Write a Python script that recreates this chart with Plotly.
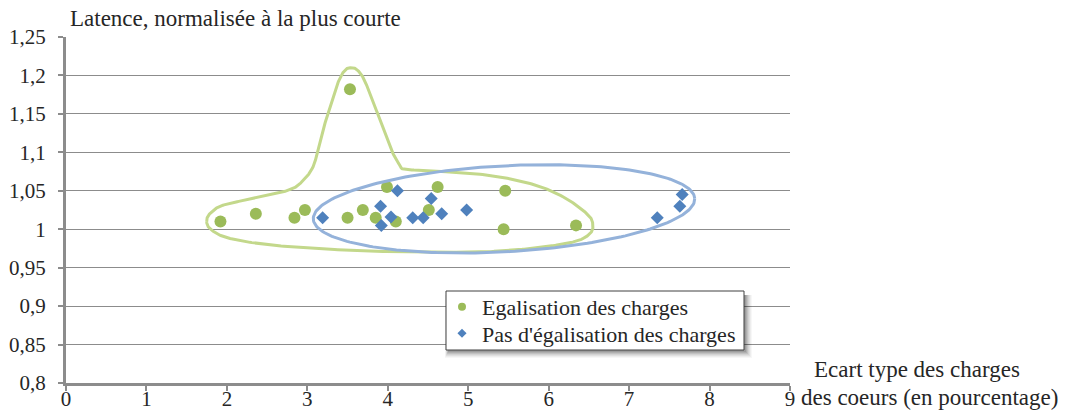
import numpy as np
import plotly.graph_objects as go

# --- data -------------------------------------------------------------
# Load balancing enabled ("Egalisation des charges")
eq_x = [1.92, 2.36, 2.84, 2.97, 3.50, 3.53, 3.69, 3.85, 3.99, 4.10, 4.51, 4.62, 5.44, 5.46, 6.34]
eq_y = [1.010, 1.020, 1.015, 1.025, 1.015, 1.182, 1.025, 1.015, 1.055, 1.010, 1.025, 1.055, 1.000, 1.050, 1.005]

# No load balancing ("Pas d'égalisation des charges")
noeq_x = [3.19, 3.91, 3.92, 4.04, 4.12, 4.31, 4.44, 4.54, 4.67, 4.98, 7.35, 7.63, 7.66]
noeq_y = [1.015, 1.030, 1.005, 1.016, 1.050, 1.015, 1.015, 1.040, 1.020, 1.025, 1.015, 1.030, 1.045]

y_ticks = [0.8, 0.85, 0.9, 0.95, 1.0, 1.05, 1.1, 1.15, 1.2, 1.25]
y_tick_labels = ["0,8", "0,85", "0,9", "0,95", "1", "1,05", "1,1", "1,15", "1,2", "1,25"]
x_ticks = [0, 1, 2, 3, 4, 5, 6, 7, 8, 9]

# hand-drawn outline around the balanced group (data units)
blob_x = [1.749, 1.790, 1.952, 2.371, 2.747, 2.909, 3.071, 3.158, 3.282, 3.390, 3.470, 3.539,
          3.610, 3.690, 3.779, 3.904, 4.028, 4.152, 4.277, 5.147, 5.768, 6.182, 6.473, 6.548,
          6.514, 6.307, 5.768, 5.147, 4.314, 3.490, 2.577, 2.039, 1.811]
blob_y = [1.0095, 1.0204, 1.0312, 1.0410, 1.0501, 1.0594, 1.0810, 1.1158, 1.1591, 1.1930, 1.2070, 1.2100,
          1.2080, 1.1980, 1.1765, 1.1418, 1.1070, 1.0832, 1.0774, 1.0715, 1.0594, 1.0420, 1.0204, 1.0074,
          0.9944, 0.9835, 0.9749, 0.9705, 0.9705, 0.9727, 0.9792, 0.9879, 0.9987]

# --- layout geometry ----------------------------------------------------
W, H = 1074, 411
M_L, M_R, M_T, M_B = 66, 284, 37, 28
X_RANGE = [0, 9]
Y_RANGE = [0.8, 1.25]
plot_w = W - M_L - M_R
plot_h = H - M_T - M_B
px_per_x = plot_w / (X_RANGE[1] - X_RANGE[0])
px_per_y = plot_h / (Y_RANGE[1] - Y_RANGE[0])

FONT = '"Liberation Serif", "Times New Roman", serif'
TXT = "#262626"
GREEN = "#9BBB59"
BLUE = "#4F81BD"
GREEN_LINE = "#C3D88B"
BLUE_LINE = "#94B2DA"
GRID = "#8C8C8C"


def closed_catmull_rom(xs, ys, n=24):
    """Smooth closed curve through the given points, computed in screen space."""
    px = np.asarray(xs) * px_per_x
    py = np.asarray(ys) * px_per_y
    pts = np.stack([px, py], axis=1)
    m = len(pts)
    out = []
    for i in range(m):
        p0, p1, p2, p3 = pts[(i - 1) % m], pts[i], pts[(i + 1) % m], pts[(i + 2) % m]
        t = np.linspace(0, 1, n, endpoint=False)[:, None]
        seg = 0.5 * ((2 * p1) + (-p0 + p2) * t + (2 * p0 - 5 * p1 + 4 * p2 - p3) * t ** 2
                     + (-p0 + 3 * p1 - 3 * p2 + p3) * t ** 3)
        out.append(seg)
    out.append(pts[:1])
    out = np.vstack(out)
    return out[:, 0] / px_per_x, out[:, 1] / px_per_y


def tilted_ellipse(cx, cy, a_px, b_px, angle_deg, n=240):
    """Ellipse with semi-axes given in pixels, tilted on screen, returned in data units."""
    t = np.linspace(0, 2 * np.pi, n)
    th = np.radians(angle_deg)
    dx = a_px * np.cos(t) * np.cos(th) - b_px * np.sin(t) * np.sin(th)
    dy = a_px * np.cos(t) * np.sin(th) + b_px * np.sin(t) * np.cos(th)
    return cx + dx / px_per_x, cy + dy / px_per_y


def px_to_paper(x_px, y_px):
    return (x_px - M_L) / plot_w, (H - M_B - y_px) / plot_h


fig = go.Figure()

# data series
fig.add_trace(go.Scatter(x=eq_x, y=eq_y, mode="markers", showlegend=False,
                         marker=dict(symbol="circle", size=12, color=GREEN)))
fig.add_trace(go.Scatter(x=noeq_x, y=noeq_y, mode="markers", showlegend=False,
                         marker=dict(symbol="diamond", size=10, color=BLUE)))

# group outlines
bx, by = closed_catmull_rom(blob_x, blob_y)
fig.add_trace(go.Scatter(x=bx, y=by, mode="lines", showlegend=False, hoverinfo="skip",
                         line=dict(color=GREEN_LINE, width=3)))
ex, ey = tilted_ellipse(5.445, 1.0265, 191, 43, 3.1)
fig.add_trace(go.Scatter(x=ex, y=ey, mode="lines", showlegend=False, hoverinfo="skip",
                         line=dict(color=BLUE_LINE, width=3)))

# legend entries (one per legend so the row spacing can be set)
fig.add_trace(go.Scatter(x=[None], y=[None], mode="markers", name="Egalisation des charges",
                         legend="legend",
                         marker=dict(symbol="circle", size=8, color=GREEN)))
fig.add_trace(go.Scatter(x=[None], y=[None], mode="markers", name="Pas d'égalisation des charges",
                         legend="legend2",
                         marker=dict(symbol="diamond", size=7, color=BLUE)))

# legend frame with a soft drop shadow
shapes = []
box = (446, 291, 744, 350)
for k, op in enumerate([0.10, 0.09, 0.08, 0.06, 0.05, 0.04, 0.03]):
    x0, y0 = px_to_paper(box[0] + 2 - k * 0.5, box[3] + 2 + k)
    x1, y1 = px_to_paper(box[2] + 2 + k, box[1] + 4)
    shapes.append(dict(type="rect", xref="paper", yref="paper", x0=x0, y0=y0, x1=x1, y1=y1,
                       line=dict(width=0), fillcolor=f"rgba(0,0,0,{op})", layer="above"))
fx0, fy0 = px_to_paper(box[0], box[3])
fx1, fy1 = px_to_paper(box[2], box[1])
shapes.append(dict(type="rect", xref="paper", yref="paper", x0=fx0, y0=fy0, x1=fx1, y1=fy1,
                   line=dict(color="#404040", width=1), fillcolor="white", layer="above"))

row_h = 26.5
leg_left = 442
leg_top = 286
legend_common = dict(xanchor="left", yanchor="top", bgcolor="rgba(0,0,0,0)", borderwidth=0,
                     font=dict(family=FONT, size=22, color=TXT), itemwidth=30)
l1x, l1y = px_to_paper(leg_left, leg_top)
l2x, l2y = px_to_paper(leg_left, leg_top + row_h)

annotations = [
    dict(text="Latence, normalisée à la plus courte", xref="paper", yref="paper",
         x=px_to_paper(68, 0)[0], y=px_to_paper(0, 19)[1], xanchor="left", yanchor="middle",
         showarrow=False, font=dict(family=FONT, size=23, color=TXT)),
    dict(text="Ecart type des charges", xref="paper", yref="paper",
         x=px_to_paper(812, 0)[0], y=px_to_paper(0, 369)[1], xanchor="left", yanchor="middle",
         showarrow=False, font=dict(family=FONT, size=23, color=TXT)),
    dict(text="des coeurs (en pourcentage)", xref="paper", yref="paper",
         x=px_to_paper(799, 0)[0], y=px_to_paper(0, 397)[1], xanchor="left", yanchor="middle",
         showarrow=False, font=dict(family=FONT, size=23, color=TXT)),
]

fig.update_layout(
    width=W, height=H,
    margin=dict(l=M_L, r=M_R, t=M_T, b=M_B, pad=0, autoexpand=False),
    paper_bgcolor="white", plot_bgcolor="white",
    font=dict(family=FONT, size=21, color=TXT),
    showlegend=True,
    legend=dict(x=l1x, y=l1y, **legend_common),
    legend2=dict(x=l2x, y=l2y, **legend_common),
    shapes=shapes,
    annotations=annotations,
    xaxis=dict(range=X_RANGE, tickvals=x_ticks, showgrid=False, zeroline=False, automargin=False,
               showline=True, linecolor=GRID, linewidth=3,
               ticks="outside", ticklen=5, tickwidth=2, tickcolor=GRID,
               ticklabelstandoff=-10,
               tickfont=dict(family=FONT, size=21, color=TXT)),
    yaxis=dict(range=Y_RANGE, tickvals=y_ticks, ticktext=y_tick_labels, automargin=False,
               showgrid=True, gridcolor=GRID, gridwidth=1, zeroline=False,
               showline=True, linecolor=GRID, linewidth=3,
               ticks="outside", ticklen=5, tickwidth=2, tickcolor=GRID,
               ticklabelstandoff=8,
               tickfont=dict(family=FONT, size=21, color=TXT)),
)

fig.write_html("out.html")
